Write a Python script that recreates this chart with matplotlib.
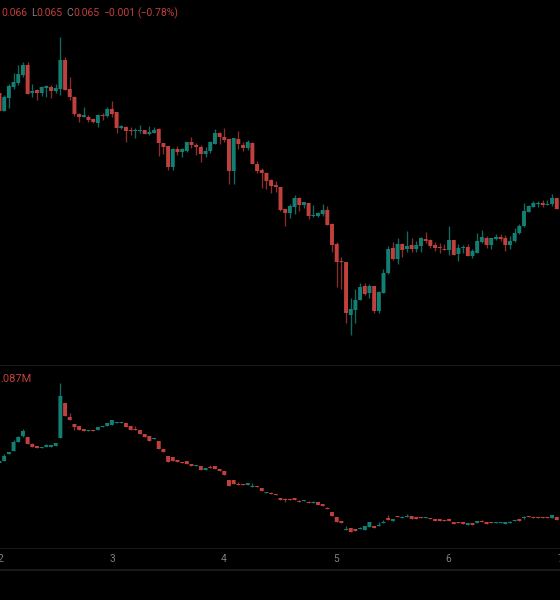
import matplotlib
matplotlib.use("Agg")
import matplotlib.pyplot as plt
import numpy as np

W, H = 560, 600
UP, DOWN = "#137f73", "#bf403c"
WICK_UP, WICK_DOWN = "#0f6a60", "#8a2f2c"
GRID = "#1f1f1f"
TEXT_GRAY = "#7f7f7f"

day_labels = ["2", "3", "4", "5", "6", "7"]
day_positions = [0, 24, 48, 72, 96, 120]

# Price candles, in price ticks
price_open = [307,289,302,313,317,325,335,307,310,307,312,313,309,311,340,311,303,286,283,283,
              281,277,285,284,291,288,272,273,270,269,269,270,266,267,271,257,254,233,251,248,
              249,258,255,253,246,249,256,267,263,261,229,261,255,252,257,236,230,227,220,215,
              213,191,187,193,202,195,197,184,184,186,190,176,156,139,138,85,90,100,114,107,
              114,89,107,127,152,141,156,151,155,151,154,161,160,155,153,151,150,160,146,152,
              153,144,147,158,162,155,161,163,162,155,159,167,174,188,193,196,197,195,196,202]
price_high = [307,305,316,327,335,338,338,316,311,314,315,315,316,363,343,323,304,287,293,285,
              282,286,287,293,299,288,275,274,273,272,275,270,274,273,272,257,254,252,254,252,
              258,263,257,255,253,259,271,268,272,261,262,269,258,260,258,239,232,228,221,219,
              213,191,196,205,203,198,197,195,188,196,194,177,158,143,138,102,111,117,117,116,
              114,109,131,154,158,162,157,169,162,159,163,168,161,158,157,156,174,160,156,155,
              156,151,167,170,164,162,166,166,165,164,172,176,197,195,199,199,200,200,206,202]
price_low = [289,289,292,311,315,323,306,303,300,304,303,302,307,305,310,300,284,278,283,278,
             277,273,280,283,283,267,271,258,265,262,267,266,265,267,244,246,230,230,245,243,
             248,252,245,238,243,247,256,256,258,216,216,251,249,250,236,227,212,211,207,208,
             189,174,182,186,189,192,181,183,183,184,175,148,113,111,77,65,77,100,105,102,
             87,87,107,126,140,136,143,148,148,148,148,157,152,149,147,150,145,145,139,147,
             144,142,147,157,152,151,160,159,149,151,158,166,173,188,193,193,193,195,194,191]
price_close = [289,303,314,318,326,335,306,309,307,313,314,309,312,340,310,303,286,283,285,280,
               278,285,284,291,286,272,274,269,269,270,270,266,268,270,257,253,233,251,248,251,
               258,255,253,246,249,258,267,263,260,229,262,256,252,258,236,229,227,219,214,213,
               190,187,194,202,195,198,184,185,187,190,175,155,138,138,87,91,100,113,106,114,
               89,108,127,151,141,156,150,154,151,155,162,159,154,152,152,150,160,145,152,153,
               144,149,159,163,155,162,163,161,155,159,167,174,189,194,197,197,195,196,202,191]

# Lower pane candles, in volume ticks
vol_open = [137,139,146,149,158,164,163,156,154,152,153,153,154,162,197,183,176,174,171,169,
            170,170,173,174,175,177,177,177,174,171,170,166,164,161,159,151,144,143,140,138,
            139,136,134,134,130,133,134,131,129,120,120,116,116,115,113,114,112,107,107,106,
            102,101,101,102,99,99,98,97,98,96,92,88,83,79,70,72,71,71,70,73,
            74,74,77,82,79,84,82,83,84,83,83,82,82,81,81,80,81,78,78,78,
            75,77,77,79,78,78,77,77,76,77,79,81,82,84,83,83,83,83,82,83]
vol_close = [139,144,148,158,163,169,156,153,152,153,155,155,157,204,184,180,173,170,169,170,
             169,173,174,177,180,178,178,173,170,170,166,163,159,162,151,148,138,139,138,137,
             136,134,135,130,132,132,131,129,125,114,116,115,115,117,114,113,109,108,106,105,
             100,100,100,100,98,100,97,98,95,94,91,84,78,77,71,68,69,72,74,78,
             72,75,78,80,81,83,83,84,81,81,82,83,81,79,79,79,79,76,77,76,
             77,75,79,78,76,77,78,78,78,78,80,79,83,83,82,82,82,82,85,80]
vol_wick_high_at = [1,3,4,5,7,10,13,15,29,45,51,54,58,61,64,66,67,70,74,77,81,82,83,86,87,103,109,112]
vol_wick_high_val = [146,160,164,171,157,156,217,187,174,135,118,117,108,102,100,99,99,93,74,73,78,80,85,84,86,80,79,84]
vol_wick_low_at = [5,16,61,112]
vol_wick_low_val = [163,170,98,81]

def draw_candles(ax, o, h, l, c):
    o, h, l, c = map(np.asarray, (o, h, l, c))
    x = np.arange(len(o))
    up = c >= o
    ax.vlines(x[up], l[up], h[up], color=WICK_UP, lw=0.95, zorder=2)
    ax.vlines(x[~up], l[~up], h[~up], color=WICK_DOWN, lw=0.95, zorder=2)
    bottom = np.minimum(o, c)
    height = np.abs(c - o)
    for mask, col in ((up, UP), (~up, DOWN)):
        for b in ax.bar(x[mask], height[mask], bottom=bottom[mask], width=0.84,
                        color=col, lw=0, zorder=3):
            b.set_snap(False)

def pane(top, bottom):
    a = fig.add_axes([0, 1 - bottom / H, 1, (bottom - top) / H], facecolor="black")
    a.set_xlim(0.107, 119.69)
    a.set_xticks([]); a.set_yticks([])
    for s in a.spines.values():
        s.set_visible(False)
    a.spines["bottom"].set_visible(True)
    a.spines["bottom"].set_color(GRID)
    a.spines["bottom"].set_linewidth(1.2)
    return a

fig = plt.figure(figsize=(W / 100, H / 100), dpi=100, facecolor="black")
plt.rcParams["font.family"] = ["Roboto", "DejaVu Sans"]

ax_price = pane(0, 365.5)
ax_price.set_ylim(34.5, 400)
draw_candles(ax_price, price_open, price_high, price_low, price_close)

vo, vc = np.array(vol_open), np.array(vol_close)
vh, vl = np.maximum(vo, vc), np.minimum(vo, vc)
vh[vol_wick_high_at] = vol_wick_high_val
vl[vol_wick_low_at] = vol_wick_low_val
ax_vol = pane(365.5, 548.5)
ax_vol.set_ylim(51.5, 234.5)
draw_candles(ax_vol, vo, vh, vl, vc)

ax_time = pane(548.5, 570)
ax_time.set_ylim(0, 1)
ax_time.set_xticks(day_positions)
ax_time.set_xticklabels(day_labels, color=TEXT_GRAY, fontsize=7.4)
ax_time.tick_params(axis="x", length=0, pad=0, direction="in")
for t in ax_time.get_xticklabels():
    t.set_verticalalignment("center")
    t.set_transform(ax_time.get_xaxis_transform())
    t.set_y(0.52)

def header(x, y, s, color):
    fig.text(x / W, 1 - y / H, s, color=color, fontsize=7.5, ha="left", va="center")

RED = "#bf403c"
header(1.5, 13, "0.066", RED)
header(31, 13, "L", TEXT_GRAY)
header(36.5, 13, "0.065", RED)
header(66.5, 13, "C", TEXT_GRAY)
header(73, 13, "0.065", RED)
header(103.5, 13, "\u22120.001", RED)
header(137, 13, "(\u22120.78%)", RED)
fig.text(0.5 / W, 1 - 378.5 / H, ".087M", color=RED, fontsize=8, ha="left", va="center")

fig.savefig("out.png", dpi=100, facecolor="black")
